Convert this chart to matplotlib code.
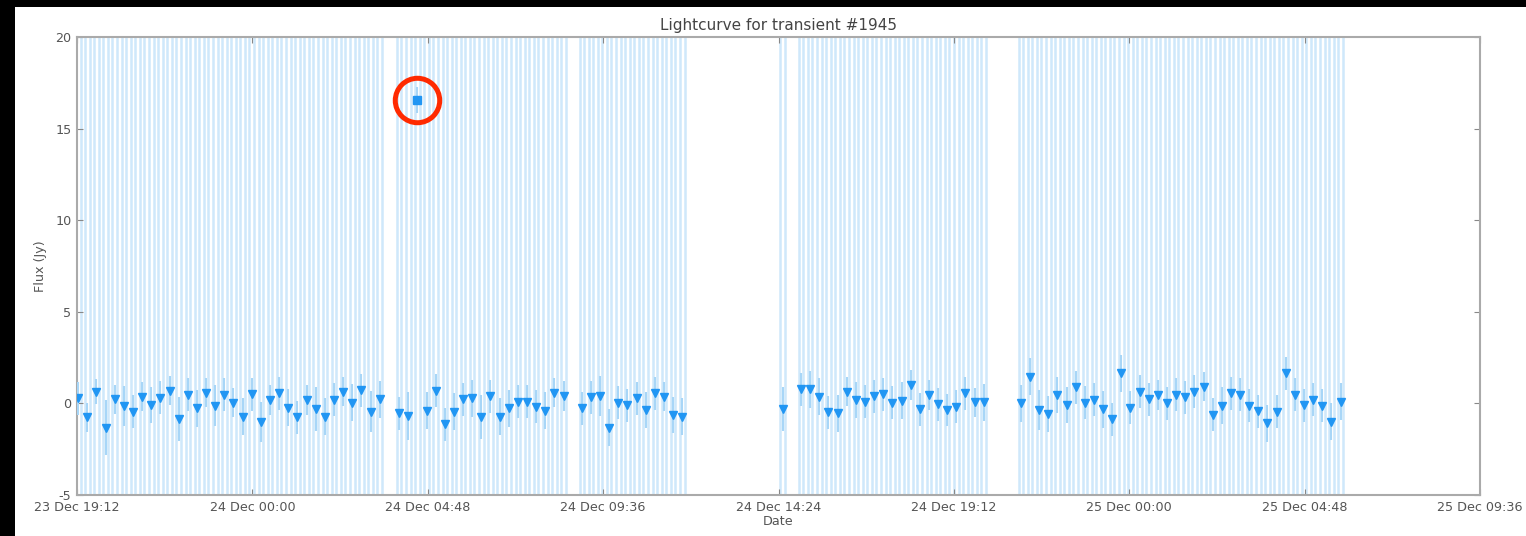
import matplotlib
matplotlib.use('Agg')
import matplotlib.pyplot as plt
import matplotlib.dates as mdates
from matplotlib.patches import Rectangle
from datetime import datetime, timedelta

plt.rcParams['axes.unicode_minus'] = False

# time axis: minutes after 23 Dec 19:12
t_start = datetime(2011, 12, 23, 19, 12)
t_end = datetime(2011, 12, 25, 9, 36)

# observation times (minutes after t_start), one list per block
seg1_min = [2, 17, 32, 47, 62, 77, 92, 107, 122, 137, 152, 167, 182, 197, 212, 227, 242,
            257, 272, 287, 302, 317, 332, 347, 362, 377, 392, 407, 422, 437, 452, 467, 482, 497]
seg2_min = [529, 544, 574, 589, 604, 619, 634, 649, 664, 679, 694, 709, 724, 739, 754, 769, 784, 799]
seg3_min = [829, 844, 859, 874, 889, 904, 919, 934, 949, 964, 979, 994]
seg4_min = [1159, 1189, 1204, 1219, 1234, 1249, 1264, 1279, 1294, 1309, 1324, 1339, 1354,
            1369, 1384, 1399, 1414, 1429, 1444, 1459, 1474, 1489]
seg5_min = [1550, 1565, 1580, 1595, 1610, 1625, 1640, 1655, 1670, 1685, 1700, 1715, 1730,
            1745, 1760, 1775, 1790, 1805, 1820, 1835, 1850, 1865, 1880, 1895, 1910, 1925,
            1940, 1955, 1970, 1985, 2000, 2015, 2030, 2045, 2060, 2075]

# flux (Jy)
seg1_flux = [0.28, -0.76, 0.64, -1.32, 0.22, -0.14, -0.45, 0.37, -0.09, 0.31, 0.69, -0.87,
             0.46, -0.27, 0.58, -0.12, 0.46, 0.04, -0.72, 0.50, -1.00, 0.19, 0.55, -0.23,
             -0.76, 0.19, -0.32, -0.72, 0.19, 0.64, 0.04, 0.73, -0.45, 0.22]
seg2_flux = [-0.54, -0.69, -0.40, 0.69, -1.14, -0.45, 0.22, 0.28, -0.72, 0.40, -0.72, -0.27,
             0.09, 0.09, -0.18, -0.40, 0.58, 0.40]
seg3_flux = [-0.27, 0.33, 0.40, -1.32, 0.04, -0.09, 0.28, -0.36, 0.55, 0.37, -0.63, -0.72]
seg4_flux = [-0.32, 0.77, 0.77, 0.37, -0.49, -0.54, 0.64, 0.19, 0.09, 0.40, 0.50, 0.04, 0.15,
             1.00, -0.32, 0.46, -0.05, -0.36, -0.18, 0.55, 0.06, 0.06]
seg5_flux = [0.00, 1.46, -0.36, -0.58, 0.46, -0.09, 0.88, 0.04, 0.19, -0.32, -0.87, 1.64,
             -0.23, 0.64, 0.22, 0.46, 0.00, 0.46, 0.33, 0.64, 0.91, -0.63, -0.12, 0.55, 0.46,
             -0.14, -0.42, -1.09, -0.45, 1.64, 0.46, -0.09, 0.19, -0.12, -1.00, 0.09]

# flux errors (Jy)
seg1_err = [0.9, 0.8, 0.7, 1.5, 0.8, 1.1, 0.9, 0.8, 1.0, 0.9, 0.8, 1.2, 0.9, 1.0, 0.8, 1.1, 0.9,
            0.8, 1.0, 0.9, 1.1, 0.8, 0.9, 1.0, 0.9, 0.8, 1.2, 1.0, 0.9, 0.8, 1.0, 0.9, 1.1, 1.0]
seg2_err = [0.9, 1.3, 1.0, 0.9, 0.9, 1.0, 0.9, 1.0, 1.2, 0.9, 1.0, 1.0, 0.9, 0.9, 0.9, 1.0, 0.8, 0.8]
seg3_err = [0.9, 0.9, 1.1, 1.0, 0.9, 0.9, 0.9, 1.0, 0.9, 0.8, 1.0, 1.0]
seg4_err = [1.2, 0.9, 1.0, 1.0, 0.9, 1.0, 0.8, 1.0, 0.9, 0.9, 0.9, 0.9, 1.0, 0.8, 0.9, 0.8,
            0.9, 0.9, 0.9, 0.9, 0.8, 1.0]
seg5_err = [1.0, 1.0, 1.1, 1.0, 1.0, 1.0, 0.9, 0.9, 0.9, 1.0, 0.9, 1.0, 0.9, 0.9, 0.9, 0.8,
            0.9, 0.9, 0.9, 0.9, 0.8, 0.9, 1.0, 0.9, 0.9, 0.9, 0.9, 1.0, 0.9, 0.9, 0.9, 0.9,
            0.9, 0.9, 1.0, 1.0]

# the detection
det_min = 559
det_flux = 16.56
det_err = 0.7

obs_min = seg1_min + seg2_min + seg3_min + seg4_min + seg5_min
obs_flux = seg1_flux + seg2_flux + seg3_flux + seg4_flux + seg5_flux
obs_err = seg1_err + seg2_err + seg3_err + seg4_err + seg5_err


def to_num(m):
    return mdates.date2num(t_start + timedelta(minutes=m))


obs_t = [to_num(m) for m in obs_min]
det_t = to_num(det_min)

fig = plt.figure(figsize=(15.26, 5.36), dpi=100, facecolor='black')
fig.add_artist(Rectangle((15 / 1526, 0), 1, 529 / 536, transform=fig.transFigure,
                         facecolor='white', edgecolor='none', zorder=-10))
ax = fig.add_axes([77 / 1526, 41 / 536, 1403 / 1526, 458 / 536])

# integration windows: lines at start and end of each observation
for m in sorted(obs_min + [det_min]):
    for edge in (m - 3.75, m + 3.75):
        ax.axvline(to_num(edge), color='#cfe8fb', lw=1.8, zorder=0)

ax.errorbar(obs_t, obs_flux, yerr=obs_err, fmt='v', color='#2196f3', ecolor='#a8d6f7',
            ms=6, mec='#2196f3', elinewidth=1.5, capsize=0, zorder=3)
ax.errorbar([det_t], [det_flux], yerr=[det_err], fmt='s', color='#2196f3', ecolor='#a8d6f7',
            ms=6, mec='#2196f3', elinewidth=1.5, capsize=0, zorder=3)
ax.plot([det_t], [det_flux], 'o', ms=32, mfc='none', mec='#ff2a00', mew=3.6, zorder=5)

ticks = [t_start + timedelta(hours=4.8 * i) for i in range(9)]
ax.set_xticks(mdates.date2num(ticks))
ax.xaxis.set_major_formatter(mdates.DateFormatter('%d %b %H:%M'))
ax.set_xlim(mdates.date2num(t_start), mdates.date2num(t_end))
ax.set_ylim(-5, 20)
ax.set_yticks([-5, 0, 5, 10, 15, 20])

ax.tick_params(direction='in', top=True, right=True, length=4, color='#888888',
               labelsize=9.2, labelcolor='#555555', pad=4)
for s in ax.spines.values():
    s.set_color('#aaaaaa')
    s.set_linewidth(1.5)

ax.set_title('Lightcurve for transient #1945', fontsize=11, color='#444444', pad=5)
ax.set_xlabel('Date', fontsize=9.2, color='#555555', labelpad=1)
ax.set_ylabel('Flux (Jy)', fontsize=9.2, color='#555555', labelpad=6)

fig.savefig('out.png', dpi=100, facecolor=fig.get_facecolor())
